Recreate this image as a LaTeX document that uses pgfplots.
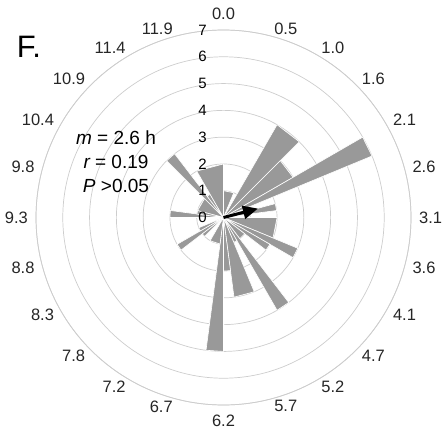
\documentclass[border=0pt]{standalone}
\usepackage{pgfplots}
\pgfplotsset{compat=1.18}
\usepgfplotslibrary{polar}
\usetikzlibrary{arrows.meta}
\usepackage{fontspec}
\setmainfont{Liberation Sans}

\definecolor{petalgray}{RGB}{153,153,153}
\definecolor{ringgray}{RGB}{205,205,205}

% one petal of the rose: start angle, end angle (degrees clockwise from the top), count
\newcommand{\petal}[3]{\addplot[petal] coordinates {(#1,0) (#1,#3) (#2,#3) (#2,0)};}

\begin{document}
\begin{tikzpicture}
\begin{polaraxis}[
  scale only axis,
  width=375pt, height=375pt,
  xmin=90, xmax=450,
  ymin=0, ymax=7,
  xtick={90,105,...,435},
  xticklabels={},
  ytick={0,...,7},
  yticklabels={},
  major tick length=0pt,
  ymajorgrids=true, xmajorgrids=false,
  y grid style={ringgray, line width=0.7pt},
  x axis line style={ringgray, line width=0.7pt},
  y axis line style={draw=none},
  clip=false,
  % data angles are clockwise from the top; turn them into the axis' angles
  x filter/.expression={450-x},
  petal/.style={fill=petalgray, draw=white, line width=0.6pt, line join=miter},
]
\coordinate (c) at (axis cs:0,0);
% 7.5-degree bins, neighbouring bins of equal count drawn together
\petal{285}{315}{1}
\petal{315}{322.5}{3}
\petal{322.5}{330}{1}
\petal{330}{360}{2}
\petal{0}{22.5}{1}
\petal{30}{45}{4}
\petal{45}{60}{3}
\petal{60}{67.5}{6}
\petal{75}{82.5}{2}
\petal{90}{112.5}{2}
\petal{112.5}{120}{3}
\petal{120}{127.5}{2}
\petal{127.5}{142.5}{1}
\petal{142.5}{150}{4}
\petal{150}{157.5}{1}
\petal{157.5}{172.5}{3}
\petal{172.5}{180}{2}
\petal{180}{187.5}{5}
\petal{187.5}{210}{1}
\petal{225}{232.5}{1}
\petal{232.5}{240}{2}
\petal{240}{247.5}{1}
\petal{270}{277.5}{2}
\petal{277.5}{285}{1}
% mean direction (2.6 h of 12.4 h) and resultant length r = 0.19
\addplot[black, line width=3pt, -{Triangle[length=15pt,width=13pt]}] coordinates {(75.48,0) (75.48,1.33)};
\end{polaraxis}
% count labels up the vertical
\foreach \k in {0,...,7}
  \node[font=\fontsize{15}{17}\selectfont, anchor=center] at ([shift={(-21pt,{\k*375pt/14})}]c) {\k};
% hour labels round the rim, 15 degrees apart
\foreach \lab [count=\i from 0] in {0.0,0.5,1.0,1.6,2.1,2.6,3.1,3.6,4.1,4.7,5.2,5.7,6.2,6.7,7.2,7.8,8.3,8.8,9.3,9.8,10.4,10.9,11.4,11.9}{
  \pgfmathsetmacro{\ang}{90-15*\i}
  \ifnum\i=0 \def\anc{south}\def\rr{197.5pt}\else
  \ifnum\i=12 \def\anc{north}\def\rr{197.5pt}\else
  \ifnum\i<12 \def\anc{west}\def\rr{195.5pt}\else
  \def\anc{east}\def\rr{195.5pt}\fi\fi\fi
  \node[font=\fontsize{16.5}{19}\selectfont, anchor=\anc, inner sep=0pt, text=black!85] at ([shift={(\ang:\rr)}]c) {\lab};
}
\node[anchor=center, align=center, font=\fontsize{19}{24}\selectfont]
  at ([shift={(-107.5pt,56pt)}]c) {\itshape m\upshape{} = 2.6 h\\ \itshape r\upshape{} = 0.19\\ \itshape P\upshape{} >0.05};
\node[font=\fontsize{31}{31}\selectfont, anchor=center] at ([shift={(-194.5pt,171pt)}]c) {F.};
\pgfresetboundingbox
\path[use as bounding box] ([shift={(-223.5pt,-211.5pt)}]c) rectangle ([shift={(220.5pt,217.5pt)}]c);
\end{tikzpicture}
\end{document}
